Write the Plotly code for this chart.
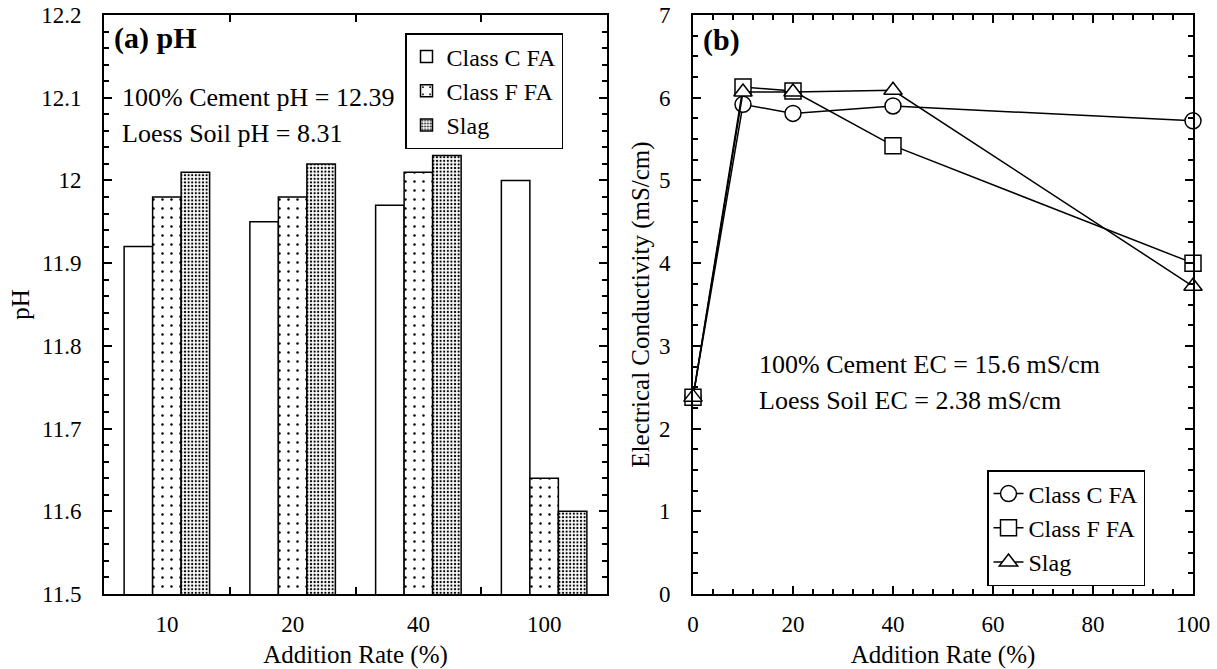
import plotly.graph_objects as go

# ---- data -------------------------------------------------------------
rates_cat = ["10", "20", "40", "100"]
ph_class_c = [11.92, 11.95, 11.97, 12.00]
ph_class_f = [11.98, 11.98, 12.01, 11.64]
ph_slag = [12.01, 12.02, 12.03, 11.60]

rates_num = [0, 10, 20, 40, 100]
ec_class_c = [2.38, 5.92, 5.81, 5.90, 5.72]
ec_class_f = [2.38, 6.13, 6.08, 5.42, 4.00]
ec_slag = [2.38, 6.07, 6.07, 6.09, 3.72]

ph_ticks = [11.5, 11.6, 11.7, 11.8, 11.9, 12.0, 12.1, 12.2]
ph_tick_text = ["11.5", "11.6", "11.7", "11.8", "11.9", "12", "12.1", "12.2"]

FONT = "Liberation Serif, Times New Roman, serif"
W, H = 1217, 669

fig = go.Figure()

# ---- (a) pH bars --------------------------------------------------------
bar_specs = [
    ("Class C FA", ph_class_c, dict(shape="")),
    ("Class F FA", ph_class_f, dict(shape=".", size=9, solidity=0.06,
                                    fgcolor="black", bgcolor="white")),
    ("Slag", ph_slag, dict(shape=".", size=3.6, solidity=0.3,
                           fgcolor="black", bgcolor="white")),
]
for name, vals, pat in bar_specs:
    fig.add_trace(go.Bar(
        x=rates_cat, y=vals, name=name,
        marker=dict(color="white", line=dict(color="black", width=1.5),
                    pattern=pat),
        xaxis="x", yaxis="y", legend="legend",
    ))

# ---- (b) electrical conductivity lines ---------------------------------
line_specs = [
    ("Class C FA", ec_class_c, "circle"),
    ("Class F FA", ec_class_f, "square"),
    ("Slag", ec_slag, "triangle-up"),
]
for name, vals, sym in line_specs:
    fig.add_trace(go.Scatter(
        x=rates_num, y=vals, name=name, mode="lines+markers",
        line=dict(color="black", width=1.5),
        marker=dict(symbol=sym, size=16, color="white",
                    line=dict(color="black", width=1.5)),
        xaxis="x2", yaxis="y2", legend="legend2", cliponaxis=False,
    ))

# ---- axes ---------------------------------------------------------------
x1 = (104 / W, 607 / W)
x2 = (693 / W, 1193 / W)
yd = (1 - 594 / H, 1 - 15 / H)

tick_font = dict(family=FONT, size=23, color="black")
title_font = dict(family=FONT, size=25, color="black")
common = dict(showline=True, linecolor="black", linewidth=2, mirror="allticks",
              ticks="inside", tickcolor="black", tickwidth=1.5,
              showgrid=False, zeroline=False, tickfont=tick_font,
              automargin=False)
minor_style = dict(ticks="inside", tickcolor="black", tickwidth=1.5, ticklen=5)

fig.update_layout(
    template="none",
    width=W, height=H,
    margin=dict(l=0, r=0, t=0, b=0, pad=0),
    paper_bgcolor="white", plot_bgcolor="white",
    font=dict(family=FONT, color="black"),
    barmode="group", bargap=0.32, bargroupgap=0,
    xaxis=dict(domain=x1, anchor="y", type="category",
               tickson="boundaries", ticklen=7,
               ticklabelstandoff=8,
               title=dict(text="Addition Rate (%)", font=title_font, standoff=18),
               **common),
    yaxis=dict(domain=yd, anchor="x", range=[11.5, 12.2],
               tickvals=ph_ticks, ticktext=ph_tick_text, ticklen=8,
               minor=dict(dtick=0.02, **minor_style),
               ticklabelstandoff=16,
               title=dict(text="pH", font=title_font, standoff=4),
               **common),
    xaxis2=dict(domain=x2, anchor="y2", range=[0, 100], dtick=20, ticklen=8,
                minor=dict(dtick=4, **minor_style),
                ticklabelstandoff=8,
                title=dict(text="Addition Rate (%)", font=title_font, standoff=18),
                **common),
    yaxis2=dict(domain=yd, anchor="x2", range=[0, 7], dtick=1, ticklen=8,
                minor=dict(dtick=0.25, **minor_style),
                ticklabelstandoff=16,
                title=dict(text="Electrical Conductivity (mS/cm)",
                           font=title_font, standoff=2),
                **common),
    legend=dict(x=405 / W, y=1 - 33 / H, xanchor="left", yanchor="top",
                bgcolor="white", bordercolor="black", borderwidth=1.5,
                font=dict(family=FONT, size=24, color="black"),
                tracegroupgap=0),
    legend2=dict(x=987 / W, y=1 - 586 / H, xanchor="left", yanchor="bottom",
                 bgcolor="white", bordercolor="black", borderwidth=1.5,
                 font=dict(family=FONT, size=24, color="black"),
                 tracegroupgap=0),
)

# ---- text labels --------------------------------------------------------
notes = [
    ("<b>(a) pH</b>", 112, 38, 30),
    ("100% Cement pH = 12.39", 120, 97, 26),
    ("Loess Soil pH = 8.31", 120, 133, 26),
    ("<b>(b)</b>", 701, 40, 30),
    ("100% Cement EC = 15.6 mS/cm", 757, 365, 26),
    ("Loess Soil EC = 2.38 mS/cm", 757, 400, 26),
]
for text, px, py, fs in notes:
    fig.add_annotation(text=text, xref="paper", yref="paper",
                       x=px / W, y=1 - py / H, xanchor="left", yanchor="middle",
                       showarrow=False,
                       font=dict(family=FONT, size=fs, color="black"))

fig.write_html("out.html")
